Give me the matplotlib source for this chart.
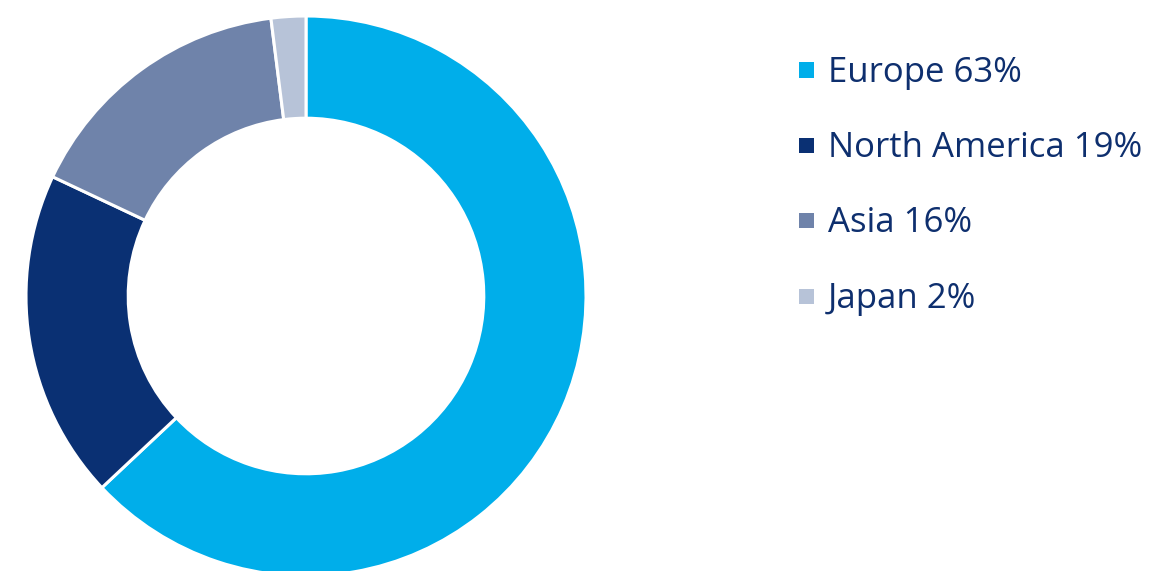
import matplotlib.pyplot as plt
from matplotlib.patches import Rectangle

regions = ["Europe", "North America", "Asia", "Japan"]
shares = [63, 19, 16, 2]
colors = ["#00AEEA", "#0A3073", "#6F83AA", "#B7C3D8"]
text_color = "#0E2F6E"

plt.rcParams['font.family'] = ['Open Sans', 'DejaVu Sans']

fig = plt.figure(figsize=(11.67, 5.71), dpi=100)
W, H = 1167, 571

# donut: center (306, 296) px, radius 280 px
cx, cy, r = 306, 296, 280
ax = fig.add_axes([(cx - r) / W, (H - cy - r) / H, 2 * r / W, 2 * r / H])
ax.pie(shares, colors=colors, startangle=90, counterclock=False, radius=1,
       wedgeprops=dict(width=0.365, edgecolor="white", linewidth=2.2))
ax.set_xlim(-1, 1)
ax.set_ylim(-1, 1)
ax.set_aspect("equal")
ax.axis("off")

# legend drawn by hand
row_y = [69, 144, 219, 295]
for lab, val, col, y in zip(regions, shares, colors, row_y):
    s = 15
    fig.add_artist(Rectangle((799 / W, (H - y - s / 2 - 1) / H), s / W, s / H,
                             transform=fig.transFigure, facecolor=col, edgecolor="none"))
    fig.text(828 / W, (H - y) / H, f"{lab} {val}%", color=text_color,
             fontsize=25, va="center_baseline", ha="left")

fig.savefig("out.png", dpi=100)
